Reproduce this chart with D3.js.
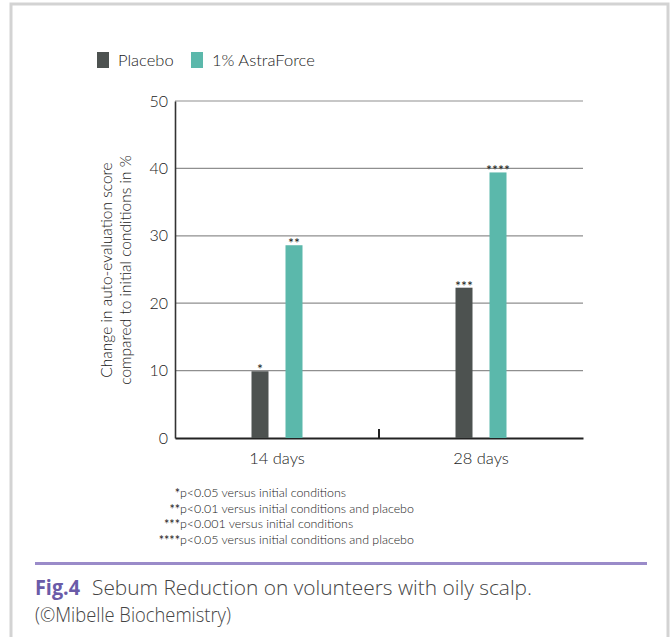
<!DOCTYPE html>
<html><head><meta charset="utf-8">
<script src="https://cdn.jsdelivr.net/npm/d3@7"></script>
<style>body{margin:0;background:#fff}svg{display:block}</style>
</head><body>
<script>
const categories = ["14 days", "28 days"];
const seriesNames = ["Placebo", "1% AstraForce"];
const placebo = [9.9, 22.3];
const astraforce = [28.6, 39.4];
const placeboMarks = ["*", "***"];
const astraMarks = ["**", "****"];
const yTicks = [0, 10, 20, 30, 40, 50];
const footStars = ["*", "**", "***", "****"];
const footTexts = ["p<0.05 versus initial conditions", "p<0.01 versus initial conditions and placebo", "p<0.001 versus initial conditions", "p<0.05 versus initial conditions and placebo"];
const colors = ["#4d5250", "#5bb8ab"];

const W = 672, H = 637;
const svg = d3.select("body").append("svg").attr("width", W).attr("height", H);
const font = "Lato, 'Open Sans', sans-serif";
const fw = 300;

// frame
svg.append("path").attr("d", `M11,${H} V4 H668 V${H}`).attr("fill", "none").attr("stroke", "#d3d3d3").attr("stroke-width", 3);

const x = d3.scaleBand().domain(categories).range([175, 583]);
const xs = d3.scalePoint().domain(seriesNames).range([-17, 17]);
const y = d3.scaleLinear().domain([0, 50]).range([438, 101]);
const bw = 17;

// gridlines
svg.append("g").selectAll("line").data(yTicks.filter(d => d > 0)).join("line")
  .attr("x1", 175).attr("x2", 583).attr("y1", d => y(d)).attr("y2", d => y(d))
  .attr("stroke", "#8f8f8f").attr("stroke-width", 1.2);

// y axis
const yAxis = svg.append("g").attr("transform", "translate(175,0)")
  .call(d3.axisLeft(y).tickValues(yTicks).tickSize(0).tickPadding(7));
yAxis.select(".domain").attr("stroke", "#333").attr("stroke-width", 1.6);
yAxis.selectAll("text").attr("font-family", font).attr("font-weight", fw).attr("font-size", 16).attr("fill", "#1a1a1a");

// x axis
const xAxis = svg.append("g").attr("transform", "translate(0,438)")
  .call(d3.axisBottom(x).tickSize(0).tickPadding(14));
xAxis.select(".domain").attr("stroke", "#222").attr("stroke-width", 2);
xAxis.selectAll("text").attr("font-family", font).attr("font-weight", fw).attr("font-size", 16.5).attr("fill", "#1a1a1a");
// middle divider tick
svg.append("line").attr("x1", x("28 days")).attr("x2", x("28 days")).attr("y1", 429).attr("y2", 438)
  .attr("stroke", "#222").attr("stroke-width", 2);

// bars
const data = [];
categories.forEach((c, i) => {
  data.push({c, s: seriesNames[0], v: placebo[i], m: placeboMarks[i], col: colors[0]});
  data.push({c, s: seriesNames[1], v: astraforce[i], m: astraMarks[i], col: colors[1]});
});
const g = svg.append("g");
g.selectAll("rect").data(data).join("rect")
  .attr("x", d => x(d.c) + x.bandwidth() / 2 + xs(d.s) - bw / 2)
  .attr("width", bw)
  .attr("y", d => y(d.v)).attr("height", d => y(0) - y(d.v))
  .attr("fill", d => d.col);
g.selectAll("text").data(data).join("text")
  .attr("x", d => x(d.c) + x.bandwidth() / 2 + xs(d.s))
  .attr("y", d => y(d.v) + 3)
  .attr("text-anchor", "middle").attr("font-family", font).attr("font-size", 14).attr("fill", "#222")
  .text(d => d.m);

// y label
const yl = svg.append("text").attr("font-family", font).attr("font-weight", fw).attr("font-size", 15.5).attr("fill", "#222").attr("text-anchor", "middle");
yl.append("tspan").attr("x", 0).attr("y", 0).text("Change in auto-evaluation score");
yl.append("tspan").attr("x", 0).attr("y", 19).text("compared to initial conditions in %");
yl.attr("transform", "translate(112,270) rotate(-90)");

// legend
const leg = svg.append("g");
const legX = [97, 191];
seriesNames.forEach((s, i) => {
  leg.append("rect").attr("x", legX[i]).attr("y", 52).attr("width", 12).attr("height", 16).attr("fill", colors[i]);
  leg.append("text").attr("x", legX[i] + 21).attr("y", 66).attr("font-family", font).attr("font-weight", fw).attr("font-size", 16.5).attr("fill", "#1a1a1a").text(s);
});

// footnotes
const fy = [497, 513, 528, 544];
footTexts.forEach((t, i) => {
  svg.append("text").attr("x", 180).attr("y", fy[i] + 1).attr("text-anchor", "end").attr("font-family", font).attr("font-size", 12.5).attr("fill", "#222").text(footStars[i]);
  svg.append("text").attr("x", 180).attr("y", fy[i]).attr("font-family", font).attr("font-weight", fw).attr("font-size", 12.4).attr("fill", "#1a1a1a").text(t);
});

// purple rule
svg.append("line").attr("x1", 35).attr("x2", 647).attr("y1", 563.5).attr("y2", 563.5).attr("stroke", "#9a8bc9").attr("stroke-width", 3);

// caption
svg.append("text").attr("x", 35).attr("y", 595).attr("font-family", "'Liberation Sans Narrow', 'Open Sans', sans-serif").attr("font-weight", "bold").attr("font-size", 21).attr("fill", "#6a5ba8").attr("textLength", 45).attr("lengthAdjust", "spacingAndGlyphs").text("Fig.4");
svg.append("text").attr("x", 92).attr("y", 595).attr("font-family", "'Open Sans', sans-serif").attr("font-weight", 300).attr("font-size", 20).attr("fill", "#444").attr("textLength", 440).attr("lengthAdjust", "spacingAndGlyphs").text("Sebum Reduction on volunteers with oily scalp.");
svg.append("text").attr("x", 35).attr("y", 622).attr("font-family", "'Open Sans', sans-serif").attr("font-weight", 300).attr("font-size", 20).attr("fill", "#444").attr("textLength", 196).attr("lengthAdjust", "spacingAndGlyphs").text("(©Mibelle Biochemistry)");
</script>
</body></html>
